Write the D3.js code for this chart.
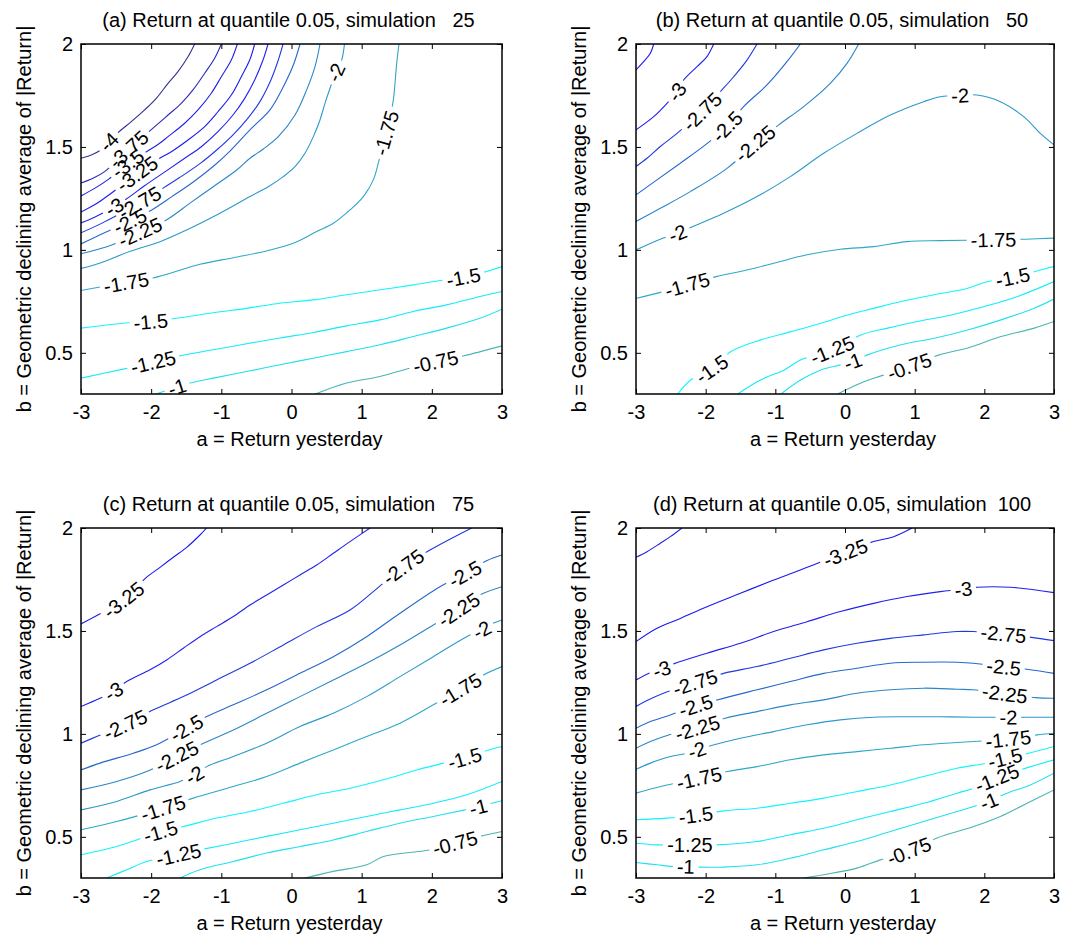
<!DOCTYPE html>
<html>
<head>
<meta charset="utf-8">
<script src="https://cdn.jsdelivr.net/npm/d3@7"></script>
<style>
  body { margin: 0; background: #fff; }
  text { font-family: "Liberation Sans", Arial, sans-serif; fill: #000; }
</style>
</head>
<body>
<svg id="chart" width="1065" height="937"></svg>
<script>
// ---------------- DATA ----------------
const xTicks = [-3, -2, -1, 0, 1, 2, 3];
const yTicks = [0.5, 1, 1.5, 2];
const xDomain = [-3, 3];
const yDomain = [0.3, 2];
const levels = [-4, -3.75, -3.5, -3.25, -3, -2.75, -2.5, -2.25, -2, -1.75, -1.5, -1.25, -1, -0.75];
const levelColors = ["#303090", "#2828c0", "#2020e0", "#1a1af0", "#2020ee", "#2038e0", "#2468cc",
                     "#2a86c8", "#2c98cc", "#2ea8c8", "#10f4ff", "#10ecfc", "#20e0f0", "#4cb4b4"];
const titles = [
  "(a) Return at quantile 0.05, simulation   25",
  "(b) Return at quantile 0.05, simulation   50",
  "(c) Return at quantile 0.05, simulation   75",
  "(d) Return at quantile 0.05, simulation  100"
];
const xLabel = "a = Return yesterday";
const yLabel = "b = Geometric declining average of |Return|";

// contour lines: [level, [[a, b], ...]]
const linesA = [
  [-4, [[-3,1.445],[-2.853,1.461],[-2.734,1.482],[-2.60,1.525],[-2.473,1.569],[-2.283,1.623],[-2.093,1.680],[-1.927,1.736],[-1.76,1.809],[-1.618,1.866],[-1.475,1.938],[-1.38,2.0]]],
  [-3.75, [[-3,1.325],[-2.829,1.348],[-2.663,1.380],[-2.32,1.49],[-1.974,1.591],[-1.76,1.655],[-1.571,1.712],[-1.404,1.777],[-1.237,1.858],[-1.095,1.931],[-1.0,2.0]]],
  [-3.5, [[-3,1.262],[-2.8,1.30],[-2.6,1.345],[-2.33,1.42],[-2.1,1.47],[-1.879,1.518],[-1.76,1.550],[-1.522,1.615],[-1.333,1.680],[-1.143,1.761],[-1.0,1.841],[-0.858,1.922],[-0.772,2.0]]],
  [-3.25, [[-3,1.184],[-2.8,1.22],[-2.55,1.28],[-2.2,1.37],[-1.879,1.445],[-1.713,1.477],[-1.475,1.534],[-1.237,1.599],[-1.048,1.671],[-0.858,1.752],[-0.715,1.841],[-0.596,1.922],[-0.525,2.0]]],
  [-3, [[-3,1.131],[-2.8,1.16],[-2.52,1.21],[-2.3,1.26],[-2.1,1.31],[-1.8,1.38],[-1.522,1.445],[-1.285,1.501],[-1.048,1.574],[-0.834,1.655],[-0.667,1.736],[-0.525,1.825],[-0.406,1.922],[-0.335,2.0]]],
  [-2.75, [[-3,1.083],[-2.7,1.13],[-2.16,1.23],[-1.9,1.285],[-1.6,1.35],[-1.3,1.42],[-1.05,1.49],[-0.83,1.56],[-0.62,1.64],[-0.45,1.72],[-0.30,1.82],[-0.2,1.91],[-0.12,2.0]]],
  [-2.5, [[-3,1.029],[-2.75,1.07],[-2.30,1.14],[-1.993,1.194],[-1.7,1.26],[-1.40,1.33],[-1.10,1.41],[-0.877,1.48],[-0.592,1.583],[-0.307,1.680],[-0.140,1.777],[0.026,1.898],[0.121,2.0]]],
  [-2.25, [[-3,0.981],[-2.563,1.024],[-2.16,1.085],[-1.779,1.146],[-1.447,1.227],[-1.115,1.307],[-0.781,1.388],[-0.592,1.445],[-0.402,1.49],[-0.188,1.55],[0.050,1.655],[0.216,1.777],[0.335,1.890],[0.406,2.0]]],
  [-2, [[-3,0.910],[-2.715,0.938],[-2.287,0.995],[-1.874,1.040],[-1.494,1.097],[-1.019,1.178],[-0.592,1.259],[-0.331,1.307],[-0.117,1.356],[0.050,1.404],[0.192,1.469],[0.311,1.550],[0.406,1.631],[0.477,1.712],[0.549,1.785],[0.63,1.86],[0.715,1.922],[0.755,2.0]]],
  [-1.75, [[-3,0.803],[-2.825,0.814],[-2.40,0.838],[-1.898,0.870],[-1.304,0.930],[-0.829,0.962],[-0.354,0.995],[0.026,1.032],[0.359,1.089],[0.596,1.129],[0.834,1.194],[1.024,1.259],[1.166,1.340],[1.237,1.421],[1.30,1.51],[1.39,1.62],[1.451,1.728],[1.475,1.809],[1.499,1.906],[1.532,2.0]]],
  [-1.5, [[-3,0.620],[-2.397,0.644],[-2.007,0.652],[-1.637,0.668],[-1.114,0.695],[-0.639,0.716],[-0.164,0.741],[0.311,0.757],[0.786,0.782],[1.261,0.806],[1.736,0.830],[2.116,0.851],[2.449,0.867],[2.78,0.895],[3,0.919]]],
  [-1.25, [[-3,0.377],[-2.397,0.421],[-1.969,0.455],[-1.589,0.486],[-1.114,0.515],[-0.639,0.544],[-0.164,0.572],[0.311,0.599],[0.786,0.631],[1.261,0.660],[1.736,0.701],[2.211,0.733],[2.686,0.774],[3,0.798]]],
  [-1, [[-1.969,0.296],[-1.637,0.333],[-1.447,0.353],[-1.114,0.377],[-0.639,0.409],[-0.164,0.442],[0.311,0.474],[0.786,0.506],[1.261,0.539],[1.736,0.579],[2.211,0.620],[2.686,0.668],[3,0.712]]],
  [-0.75, [[0.311,0.296],[0.786,0.353],[1.261,0.385],[1.594,0.417],[2.059,0.457],[2.449,0.485],[3,0.534]]]
];
// contour labels: [level, a, b]
const labelsA = [
  [-4,-2.60,1.525],[-3.75,-2.32,1.49],[-3.5,-2.33,1.42],[-3.25,-2.2,1.37],[-3,-2.52,1.21],
  [-2.75,-2.16,1.23],[-2.5,-2.30,1.14],[-2.25,-2.16,1.085],[-2,0.63,1.86],
  [-1.75,-2.35,0.83],[-1.75,1.35,1.57],[-1.5,-2.007,0.652],[-1.5,2.449,0.867],
  [-1.25,-1.969,0.455],[-1,-1.637,0.333],[-0.75,2.059,0.457]
];

const linesB = [
  [-3.25, [[-3,1.874],[-2.89,1.914],[-2.794,1.955],[-2.746,2.0]]],
  [-3, [[-3,1.583],[-2.746,1.647],[-2.555,1.712],[-2.416,1.768],[-2.316,1.825],[-2.124,1.890],[-1.981,1.939],[-1.885,2.0]]],
  [-2.75, [[-3,1.405],[-2.842,1.445],[-2.651,1.502],[-2.411,1.566],[-2.053,1.672],[-1.766,1.777],[-1.598,1.841],[-1.407,1.922],[-1.263,2.0]]],
  [-2.5, [[-3,1.267],[-2.699,1.340],[-2.364,1.421],[-2.005,1.510],[-1.694,1.599],[-1.455,1.696],[-1.120,1.801],[-0.833,1.914],[-0.641,2.0]]],
  [-2.25, [[-3,1.138],[-2.651,1.202],[-2.220,1.283],[-1.694,1.396],[-1.287,1.518],[-0.952,1.607],[-0.593,1.696],[-0.211,1.809],[0.029,1.906],[0.196,2.0]]],
  [-2, [[-3,1.0],[-2.651,1.052],[-2.402,1.081],[-2.244,1.105],[-1.742,1.178],[-1.263,1.259],[-0.785,1.356],[-0.306,1.469],[0.172,1.566],[0.651,1.655],[1.129,1.720],[1.368,1.744],[1.656,1.750],[1.895,1.752],[2.230,1.720],[2.565,1.647],[2.804,1.566],[3,1.510]]],
  [-1.75, [[-3,0.765],[-2.69,0.790],[-2.27,0.830],[-1.85,0.870],[-1.502,0.895],[-1.024,0.935],[-0.545,0.976],[-0.067,1.003],[0.411,1.016],[0.890,1.040],[1.368,1.045],[2.134,1.049],[2.589,1.052],[3,1.057]]],
  [-1.5, [[-2.402,0.30],[-2.21,0.369],[-1.914,0.421],[-1.636,0.506],[-1.206,0.563],[-0.775,0.603],[-0.345,0.644],[0.038,0.684],[0.421,0.717],[0.804,0.749],[1.282,0.782],[1.761,0.814],[2.048,0.846],[2.406,0.867],[2.717,0.894],[3,0.92]]],
  [-1.25, [[-1.54,0.30],[-1.206,0.369],[-0.871,0.417],[-0.632,0.466],[-0.177,0.515],[0.23,0.587],[0.613,0.620],[1.043,0.652],[1.522,0.684],[2.0,0.725],[2.479,0.774],[3,0.846]]],
  [-1, [[-0.919,0.30],[-0.632,0.369],[-0.345,0.417],[-0.058,0.442],[0.119,0.458],[0.325,0.490],[0.804,0.539],[1.282,0.571],[1.761,0.611],[2.239,0.660],[2.717,0.717],[3,0.761]]],
  [-0.75, [[-0.106,0.30],[0.23,0.353],[0.517,0.388],[0.923,0.434],[1.354,0.490],[1.761,0.523],[2.239,0.579],[2.717,0.620],[3,0.652]]]
];
const labelsB = [
  [-3,-2.416,1.768],[-2.75,-2.053,1.672],[-2.5,-1.694,1.599],[-2.25,-1.287,1.518],
  [-2,-2.402,1.081],[-2,1.656,1.750],[-1.75,-2.27,0.830],[-1.75,2.134,1.049],
  [-1.5,-1.914,0.421],[-1.5,2.406,0.867],[-1.25,-0.177,0.515],[-1,0.119,0.458],[-0.75,0.923,0.434]
];

const linesC = [
  [-3.25, [[-3,1.534],[-2.80,1.570],[-2.397,1.650],[-2.064,1.761],[-1.874,1.809],[-1.684,1.858],[-1.494,1.906],[-1.304,1.966],[-1.209,2.0]]],
  [-3, [[-3,1.133],[-2.729,1.173],[-2.539,1.206],[-2.349,1.254],[-2.017,1.311],[-1.779,1.359],[-1.542,1.416],[-1.304,1.472],[-1.067,1.521],[-0.829,1.570],[-0.591,1.626],[-0.354,1.675],[-0.116,1.723],[0.121,1.772],[0.359,1.820],[0.596,1.877],[0.834,1.934],[1.119,2.0]]],
  [-2.75, [[-3,0.955],[-2.777,0.987],[-2.373,1.044],[-1.969,1.117],[-1.542,1.181],[-1.067,1.262],[-0.591,1.343],[-0.116,1.432],[0.359,1.521],[0.834,1.602],[1.166,1.691],[1.594,1.812],[1.974,1.893],[2.568,2.0]]],
  [-2.5, [[-3,0.825],[-2.729,0.858],[-2.254,0.906],[-1.922,0.947],[-1.494,1.028],[-1.209,1.084],[-0.829,1.141],[-0.354,1.214],[0.121,1.294],[0.596,1.375],[1.071,1.472],[1.546,1.586],[2.116,1.715],[2.473,1.777],[2.781,1.841],[3,1.869]]],
  [-2.25, [[-3,0.728],[-2.492,0.769],[-2.064,0.817],[-1.637,0.890],[-1.304,0.947],[-0.829,1.019],[-0.354,1.100],[0.121,1.181],[0.596,1.262],[1.071,1.343],[1.546,1.432],[2.021,1.529],[2.378,1.602],[2.686,1.675],[3,1.715]]],
  [-2, [[-3,0.631],[-2.492,0.672],[-2.017,0.728],[-1.589,0.769],[-1.385,0.800],[-1.209,0.841],[-0.829,0.890],[-0.354,0.955],[0.121,1.036],[0.596,1.100],[1.071,1.181],[1.546,1.278],[2.021,1.375],[2.496,1.472],[2.710,1.505],[2.853,1.534],[3,1.553]]],
  [-1.75, [[-3,0.534],[-2.492,0.574],[-1.827,0.639],[-1.399,0.688],[-0.829,0.744],[-0.354,0.793],[0.121,0.858],[0.596,0.922],[1.071,0.987],[1.546,1.052],[2.021,1.141],[2.401,1.214],[2.734,1.286],[3,1.327]]],
  [-1.5, [[-3,0.413],[-2.492,0.453],[-2.207,0.485],[-1.860,0.526],[-1.542,0.550],[-1.067,0.591],[-0.591,0.623],[-0.116,0.663],[0.359,0.704],[0.834,0.736],[1.309,0.777],[1.784,0.825],[2.164,0.858],[2.473,0.882],[2.734,0.914],[3,0.939]]],
  [-1.25, [[-2.634,0.30],[-2.349,0.340],[-2.064,0.380],[-1.613,0.413],[-1.304,0.437],[-0.829,0.469],[-0.354,0.502],[0.121,0.534],[0.596,0.566],[1.071,0.599],[1.546,0.631],[2.021,0.663],[2.496,0.704],[3,0.769]]],
  [-1, [[-1.589,0.30],[-1.304,0.340],[-0.829,0.380],[-0.354,0.421],[0.121,0.453],[0.596,0.485],[1.071,0.526],[1.546,0.566],[2.021,0.599],[2.473,0.631],[2.663,0.645],[2.805,0.659],[3,0.675]]],
  [-0.75, [[0.192,0.30],[0.596,0.332],[1.071,0.364],[1.309,0.404],[1.974,0.437],[2.330,0.469],[2.734,0.506],[3,0.526]]]
];
const labelsC = [
  [-3.25,-2.397,1.650],[-3,-2.539,1.206],[-2.75,-2.373,1.044],[-2.75,1.594,1.812],
  [-2.5,-1.494,1.028],[-2.5,2.473,1.777],[-2.25,-1.637,0.890],[-2.25,2.378,1.602],
  [-2,-1.385,0.800],[-2,2.710,1.505],[-1.75,-1.827,0.639],[-1.75,2.401,1.214],
  [-1.5,-1.860,0.526],[-1.5,2.473,0.882],[-1.25,-1.613,0.413],[-1,2.663,0.645],[-0.75,2.330,0.469]
];

const linesD = [
  [-3.5, [[-3,1.858],[-2.842,1.885],[-2.651,1.926],[-2.507,1.958],[-2.340,2.0]]],
  [-3.25, [[-3,1.448],[-2.699,1.513],[-2.364,1.561],[-1.981,1.618],[-1.502,1.683],[-1.024,1.747],[-0.641,1.796],[-0.402,1.828],[0.005,1.880],[0.411,1.934],[0.699,1.958],[0.962,2.0]]],
  [-3, [[-3,1.262],[-2.794,1.298],[-2.627,1.315],[-2.459,1.340],[-1.981,1.392],[-1.502,1.440],[-1.024,1.497],[-0.545,1.545],[-0.067,1.594],[0.411,1.634],[0.890,1.667],[1.368,1.691],[1.703,1.703],[1.895,1.712],[2.373,1.712],[3,1.686]]],
  [-2.75, [[-3,1.133],[-2.842,1.162],[-2.579,1.201],[-2.148,1.250],[-1.742,1.294],[-1.263,1.327],[-0.785,1.367],[-0.306,1.408],[0.172,1.440],[0.651,1.464],[1.129,1.481],[1.608,1.497],[1.847,1.497],[2.278,1.485],[2.612,1.472],[3,1.453]]],
  [-2.5, [[-3,1.027],[-2.794,1.060],[-2.507,1.092],[-2.148,1.136],[-1.837,1.165],[-1.263,1.214],[-0.785,1.254],[-0.306,1.294],[0.172,1.319],[0.651,1.343],[1.129,1.348],[1.608,1.348],[1.847,1.343],[2.278,1.325],[2.612,1.314],[3,1.294]]],
  [-2.25, [[-3,0.930],[-2.794,0.963],[-2.531,0.995],[-2.124,1.028],[-1.718,1.076],[-1.263,1.108],[-0.785,1.141],[-0.306,1.165],[0.172,1.197],[0.651,1.214],[1.129,1.222],[1.608,1.217],[1.847,1.214],[2.301,1.195],[2.732,1.176],[3,1.173]]],
  [-2, [[-3,0.828],[-2.794,0.858],[-2.507,0.890],[-2.268,0.906],[-2.124,0.922],[-1.933,0.942],[-1.502,0.979],[-1.024,1.011],[-0.545,1.044],[-0.067,1.068],[0.411,1.081],[0.890,1.083],[1.368,1.083],[1.847,1.081],[2.349,1.081],[2.565,1.081],[3,1.081]]],
  [-1.75, [[-3,0.712],[-2.746,0.736],[-2.555,0.752],[-2.086,0.785],[-1.694,0.817],[-1.263,0.841],[-0.785,0.874],[-0.306,0.898],[0.172,0.914],[0.651,0.930],[1.129,0.947],[1.608,0.958],[1.847,0.963],[2.349,0.975],[2.756,0.995],[3,1.003]]],
  [-1.5, [[-3,0.583],[-2.555,0.591],[-2.148,0.605],[-1.742,0.626],[-1.263,0.639],[-0.785,0.663],[-0.306,0.688],[0.172,0.720],[0.651,0.752],[1.129,0.793],[1.608,0.833],[2.038,0.858],[2.301,0.882],[2.636,0.906],[3,0.939]]],
  [-1.25, [[-3,0.469],[-2.699,0.461],[-2.220,0.461],[-1.837,0.461],[-1.263,0.477],[-0.785,0.510],[-0.306,0.542],[0.172,0.583],[0.651,0.623],[1.129,0.663],[1.608,0.712],[1.847,0.736],[2.182,0.785],[2.517,0.825],[3,0.874]]],
  [-1, [[-3,0.375],[-2.699,0.364],[-2.459,0.356],[-2.292,0.356],[-2.124,0.353],[-1.742,0.353],[-1.263,0.364],[-0.785,0.396],[-0.306,0.437],[0.172,0.477],[0.651,0.526],[1.129,0.574],[1.608,0.623],[1.847,0.647],[2.062,0.672],[2.325,0.712],[2.660,0.752],[3,0.809]]],
  [-0.75, [[-0.593,0.30],[-0.306,0.316],[0.172,0.348],[0.507,0.388],[0.914,0.430],[1.321,0.494],[1.847,0.550],[2.230,0.599],[2.565,0.655],[3,0.728]]]
];
const labelsD = [
  [-3.25,0.005,1.880],[-3,-2.627,1.315],[-3,1.703,1.703],[-2.75,-2.148,1.250],[-2.75,2.278,1.485],
  [-2.5,-2.148,1.136],[-2.5,2.278,1.325],[-2.25,-2.124,1.028],[-2.25,2.301,1.195],
  [-2,-2.124,0.922],[-2,2.349,1.081],[-1.75,-2.086,0.785],[-1.75,2.349,0.975],
  [-1.5,-2.148,0.605],[-1.5,2.301,0.882],[-1.25,-2.220,0.461],[-1.25,2.182,0.785],
  [-1,-2.292,0.356],[-1,2.062,0.672],[-0.75,0.914,0.430]
];

// ---------------- LAYOUT ----------------
const FONT = "Liberation Sans, Arial, Helvetica, sans-serif";
const FS = 20;
const boxes = [
  {l: 81,  r: 502,  t: 44,  b: 394},
  {l: 636, r: 1054, t: 44,  b: 394},
  {l: 81,  r: 502,  t: 528, b: 878},
  {l: 636, r: 1054, t: 528, b: 878}
];
const panelLines = [linesA, linesB, linesC, linesD];
const panelLabels = [labelsA, labelsB, labelsC, labelsD];

const svg = d3.select("#chart");
const defs = svg.append("defs");
const colorOf = lev => levelColors[levels.indexOf(lev)];

boxes.forEach((box, i) => {
  const x = d3.scaleLinear().domain(xDomain).range([box.l, box.r]);
  const y = d3.scaleLinear().domain(yDomain).range([box.b, box.t]);
  const g = svg.append("g");

  const clipId = "clip" + i;
  defs.append("clipPath").attr("id", clipId)
    .append("rect").attr("x", box.l).attr("y", box.t)
    .attr("width", box.r - box.l).attr("height", box.b - box.t);

  const lineGen = d3.line()
    .x(d => x(d[0])).y(d => y(d[1]))
    .curve(d3.curveCatmullRom.alpha(0.5));

  const lineLayer = g.append("g").attr("clip-path", `url(#${clipId})`);
  const labelLayer = g.append("g");

  panelLines[i].forEach(([lev, pts]) => {
    const path = lineLayer.append("path")
      .attr("d", lineGen(pts))
      .attr("fill", "none")
      .attr("stroke", colorOf(lev))
      .attr("stroke-width", 1.1);
    const node = path.node();
    const L = node.getTotalLength();
    const gaps = [];
    panelLabels[i].filter(l => l[0] === lev).forEach(([lv, la, lb]) => {
      const tx = x(la), ty = y(lb);
      let best = 0, bd = Infinity;
      for (let s = 0; s <= L; s += 1) {
        const p = node.getPointAtLength(s);
        const d = (p.x - tx) ** 2 + (p.y - ty) ** 2;
        if (d < bd) { bd = d; best = s; }
      }
      const p1 = node.getPointAtLength(Math.max(0, best - 5));
      const p2 = node.getPointAtLength(Math.min(L, best + 5));
      let ang = Math.atan2(p2.y - p1.y, p2.x - p1.x) * 180 / Math.PI;
      if (ang > 90) ang -= 180;
      if (ang < -90) ang += 180;
      const c = node.getPointAtLength(best);
      const t = labelLayer.append("text")
        .attr("transform", `translate(${c.x},${c.y}) rotate(${ang})`)
        .attr("text-anchor", "middle")
        .attr("dy", "0.36em")
        .attr("font-size", FS)
        .attr("font-family", FONT)
        .text(String(lv));
      const w = t.node().getComputedTextLength();
      gaps.push([best - w / 2 - 4, best + w / 2 + 4]);
    });
    if (gaps.length) {
      gaps.sort((p, q) => p[0] - q[0]);
      const arr = [];
      let pos = 0;
      gaps.forEach(([s, e]) => {
        const s0 = Math.max(s, pos);
        arr.push(Math.max(0, s0 - pos));
        arr.push(Math.max(0, e - s0));
        pos = Math.max(pos, e);
      });
      arr.push(Math.max(0, L - pos) + 1);
      arr.push(L + 20);
      path.attr("stroke-dasharray", arr.join(" "));
    }
  });

  // axes (inward ticks on all four sides)
  const fmt = d => String(d);
  const axB = g.append("g").attr("transform", `translate(0,${box.b})`)
    .call(d3.axisBottom(x).tickValues(xTicks).tickSizeInner(-5).tickSizeOuter(0).tickPadding(11).tickFormat(fmt));
  const axT = g.append("g").attr("transform", `translate(0,${box.t})`)
    .call(d3.axisTop(x).tickValues(xTicks).tickSizeInner(-5).tickSizeOuter(0).tickFormat(() => ""));
  const axL = g.append("g").attr("transform", `translate(${box.l},0)`)
    .call(d3.axisLeft(y).tickValues(yTicks).tickSizeInner(-5).tickSizeOuter(0).tickPadding(8).tickFormat(fmt));
  const axR = g.append("g").attr("transform", `translate(${box.r},0)`)
    .call(d3.axisRight(y).tickValues(yTicks).tickSizeInner(-5).tickSizeOuter(0).tickFormat(() => ""));
  [axB, axT, axL, axR].forEach(a => {
    a.attr("font-size", FS).attr("font-family", FONT);
    a.select(".domain").remove();
    a.selectAll(".tick line").attr("stroke", "#000").attr("stroke-width", 1);
    a.selectAll(".tick text").attr("fill", "#000");
  });

  // frame
  g.append("rect")
    .attr("x", box.l).attr("y", box.t)
    .attr("width", box.r - box.l).attr("height", box.b - box.t)
    .attr("fill", "none").attr("stroke", "#000").attr("stroke-width", 1.5);

  // title
  g.append("text")
    .attr("x", (box.l + box.r) / 2 - 3).attr("y", box.t - 17)
    .attr("text-anchor", "middle")
    .attr("font-size", FS).attr("font-family", FONT)
    .attr("xml:space", "preserve").style("white-space", "pre")
    .text(titles[i]);

  // x label
  g.append("text")
    .attr("x", (box.l + box.r) / 2 - 2).attr("y", box.b + 52)
    .attr("text-anchor", "middle")
    .attr("font-size", FS).attr("font-family", FONT)
    .text(xLabel);

  // y label
  g.append("text")
    .attr("transform", `translate(${box.l - 50},${(box.t + box.b) / 2}) rotate(-90)`)
    .attr("text-anchor", "middle")
    .attr("font-size", FS).attr("font-family", FONT)
    .text(yLabel);
});
</script>
</body>
</html>
